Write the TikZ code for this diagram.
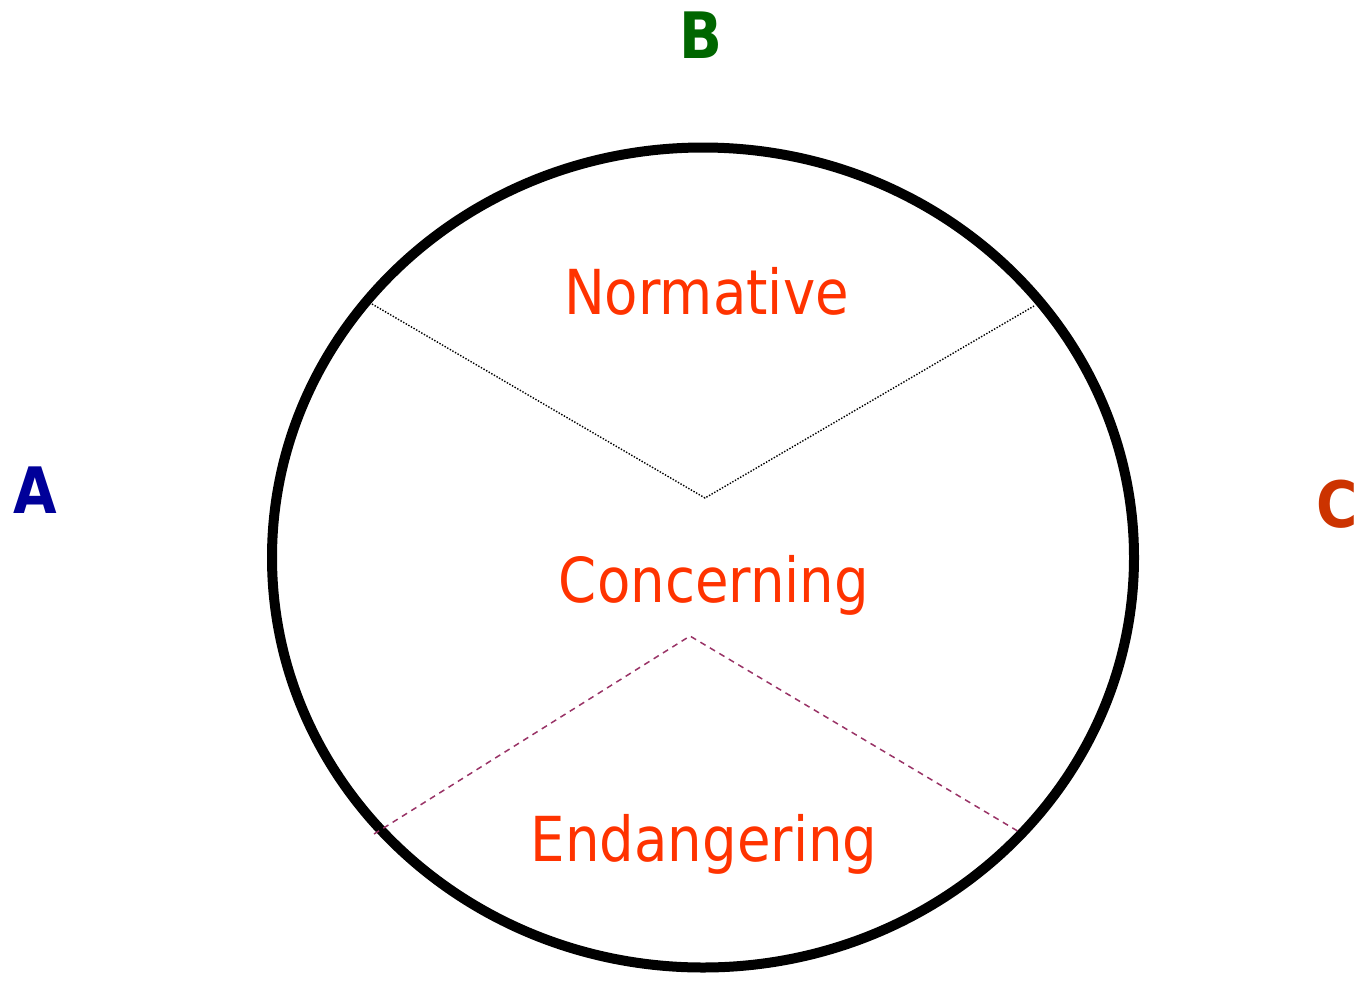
\documentclass[tikz,border=0pt]{standalone}
\usepackage{fontspec}
\setmainfont{DejaVu Sans}[FakeStretch=0.88]
\definecolor{zonered}{HTML}{FF3300}
\definecolor{vertexA}{HTML}{000099}
\definecolor{vertexB}{HTML}{006600}
\definecolor{vertexC}{HTML}{CC3300}
\definecolor{plum}{HTML}{993366}
\begin{document}
\begin{tikzpicture}[x=1pt,y=-1pt,
  zone/.style={text=zonered,font=\fontsize{62}{62}\selectfont,anchor=base,inner sep=0pt},
  vertex/.style={font=\fontsize{64}{64}\selectfont\bfseries,anchor=base,inner sep=0pt},
  upper/.style={black,line width=1.4pt,dash pattern=on 1.4pt off 1.6pt},
  lower/.style={plum,line width=1.5pt,dash pattern=on 6pt off 5pt}]
\useasboundingbox (0,0) rectangle (1359,980);
% outer boundary
\draw[line width=10pt] (703,557.5) ellipse [x radius=431, y radius=410];
% dividing lines
\coordinate (ul) at (372,304);
\coordinate (um) at (705,498);
\coordinate (ur) at (1034,306);
\coordinate (ll) at (374,834);
\coordinate (lm) at (690,636);
\coordinate (lr) at (1021,833);
\draw[upper] (ul) -- (um) -- (ur);
\draw[lower] (ll) -- (lm) -- (lr);
% zone labels
\node[zone] (norm) at (706.5,314) {Normative};
\node[zone] (conc) at (714,602) {Concerning};
\node[zone] (enda) at (704,861) {Endangering};
% corner labels
\node[vertex,text=vertexA] (A) at (35,513) {A};
\node[vertex,text=vertexB] (B) at (701,58) {B};
\node[vertex,text=vertexC] (C) at (1337,527) {C};
\end{tikzpicture}
\end{document}
